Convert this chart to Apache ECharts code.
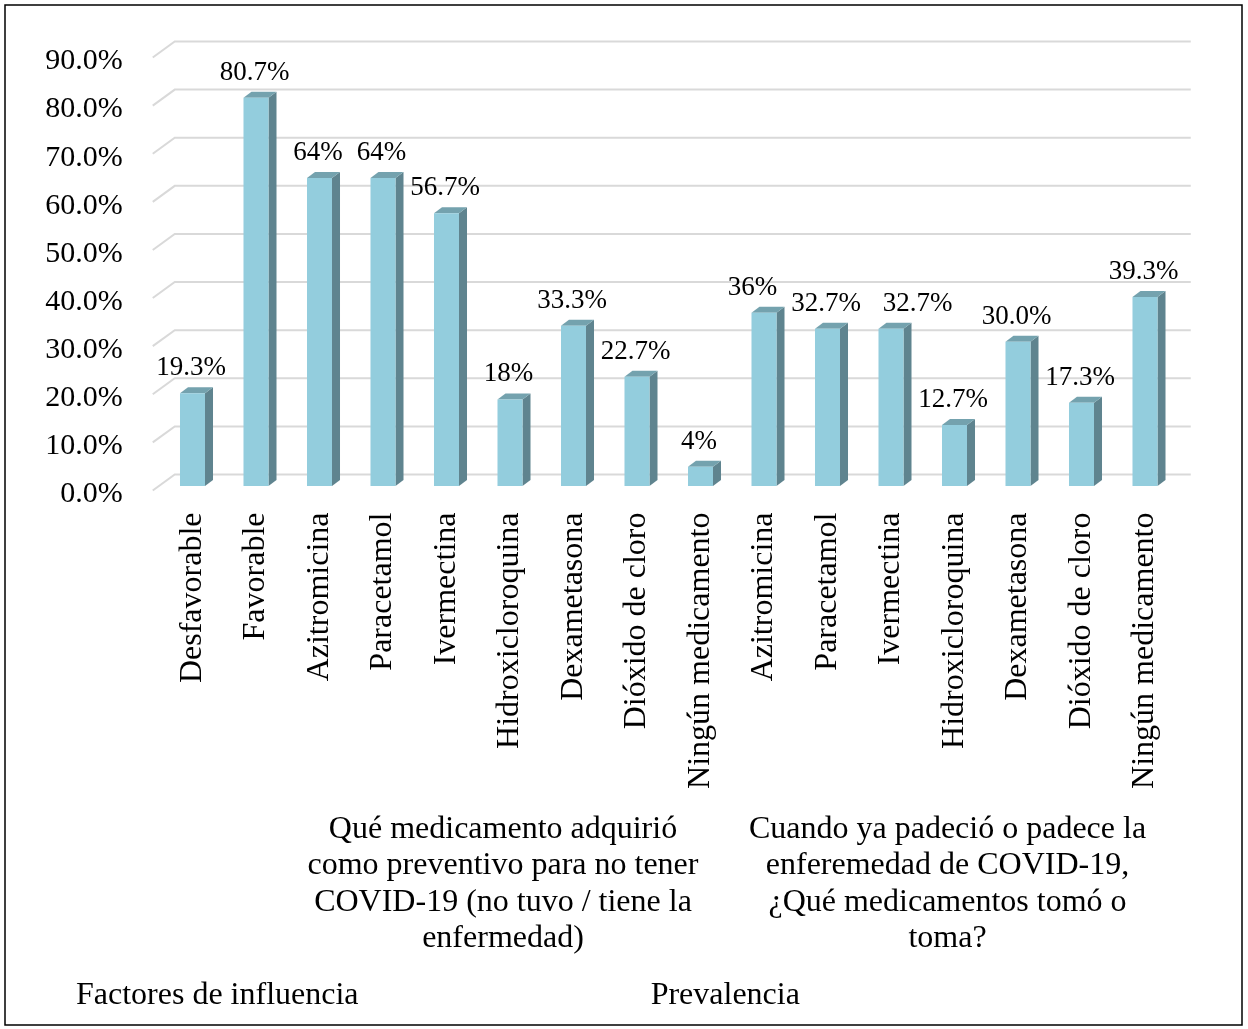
<!DOCTYPE html>
<html>
<head>
<meta charset="utf-8">
<script src="https://cdn.jsdelivr.net/npm/echarts@6/dist/echarts.min.js"></script>
<style>
  html, body { margin: 0; padding: 0; background: #fff; }
  #chart { width: 1248px; height: 1029px; }
</style>
</head>
<body>
<div id="chart"></div>
<script>
// Medicamentos: prevención y tratamiento de COVID-19
const categories = [
  'Desfavorable', 'Favorable',
  'Azitromicina', 'Paracetamol', 'Ivermectina', 'Hidroxicloroquina',
  'Dexametasona', 'Dióxido de cloro', 'Ningún medicamento',
  'Azitromicina', 'Paracetamol', 'Ivermectina', 'Hidroxicloroquina',
  'Dexametasona', 'Dióxido de cloro', 'Ningún medicamento'
];
const values = [19.3, 80.7, 64, 64, 56.7, 18, 33.3, 22.7, 4, 36, 32.7, 32.7, 12.7, 30.0, 17.3, 39.3];
const valueLabels = ['19.3%', '80.7%', '64%', '64%', '56.7%', '18%', '33.3%', '22.7%', '4%',
                     '36%', '32.7%', '32.7%', '12.7%', '30.0%', '17.3%', '39.3%'];
const yMin = 0, yMax = 90, yStep = 10;
const yTicks = [0, 10, 20, 30, 40, 50, 60, 70, 80, 90];

// Category groups: [first index, last index, text]
const subGroups = [
  [2, 8, 'Qué medicamento adquirió\ncomo preventivo para no tener\nCOVID-19 (no tuvo / tiene la\nenfermedad)'],
  [9, 15, 'Cuando ya padeció o padece la\nenferemedad de COVID-19,\n¿Qué medicamentos tomó o\ntoma?']
];
const topGroups = [
  [0, 1, 'Factores de influencia'],
  [2, 15, 'Prevalencia']
];

const FONT = '"Liberation Serif", "Times New Roman", serif';
const FRONT = '#93cddd';
const SIDE = '#5f848f';
const TOP = '#74a2ae';
const GRID_COLOR = '#d9d9d9';

// horizontal nudges (px) that keep crowded value labels apart
const LABEL_NUDGE = { 9: -10, 11: 28 };

const chart = echarts.init(document.getElementById('chart'));

const GRID = { left: 160.75, right: 71.25, top: 57.5, bottom: 538.5 };

chart.setOption({
  animation: false,
  backgroundColor: '#ffffff',
  grid: GRID,
  xAxis: {
    type: 'category',
    data: categories,
    axisLine: { show: false },
    axisTick: { show: false },
    axisLabel: {
      rotate: 90,
      margin: 22,
      interval: 0,
      fontFamily: FONT,
      fontSize: 32,
      color: '#000'
    }
  },
  yAxis: {
    type: 'value',
    min: yMin,
    max: yMax,
    interval: yStep,
    axisLine: { show: false },
    axisTick: { show: false },
    splitLine: { show: false },
    // tick labels are drawn with the 3D gridlines so they sit at the wall's front edge
    axisLabel: { show: false }
  },
  series: [
    {
      // 3D-style gridlines (back wall plus side-wall diagonal) with their tick labels
      type: 'custom',
      silent: true,
      z: 1,
      data: yTicks.map(t => [0, t]),
      encode: { x: 0, y: 1 },
      renderItem(params, api) {
        const cs = params.coordSys;
        const v = api.value(1);
        const y = api.coord([0, v])[1];
        const L = cs.x, R = cs.x + cs.width;
        return {
          type: 'group',
          children: [
            { type: 'polyline',
              shape: { points: [[L - 8, y], [L + 14, y - 16], [R + 14, y - 16]] },
              style: { stroke: GRID_COLOR, lineWidth: 2, fill: null } },
            { type: 'text', x: L - 38, y: y + 4,
              style: { text: v.toFixed(1) + '%', fontFamily: FONT, fontSize: 30, fill: '#000',
                       align: 'right', verticalAlign: 'middle' } }
          ]
        };
      }
    },
    {
      type: 'custom',
      z: 2,
      data: values.map((v, i) => [i, v]),
      encode: { x: 0, y: 1 },
      renderItem(params, api) {
        const i = api.value(0);
        const v = api.value(1);
        const base = api.coord([i, 0]);
        const top = api.coord([i, v]);
        const bw = api.size([1, 0])[0] * 0.394;
        const x0 = base[0] - bw / 2, x1 = base[0] + bw / 2;
        const yb = base[1] - 4.5, yt = top[1] - 4.5;
        const dx = 8, dy = -6;
        return {
          type: 'group',
          children: [
            { type: 'polygon', shape: { points: [[x1, yb], [x1 + dx, yb + dy], [x1 + dx, yt + dy], [x1, yt]] },
              style: { fill: SIDE } },
            { type: 'polygon', shape: { points: [[x0, yt], [x1, yt], [x1 + dx, yt + dy], [x0 + dx, yt + dy]] },
              style: { fill: TOP } },
            { type: 'rect', shape: { x: x0, y: yt, width: bw, height: yb - yt },
              style: { fill: FRONT } },
            { type: 'text', x: base[0] - 1.5 + (LABEL_NUDGE[i] || 0), y: yt - 25,
              style: { text: valueLabels[i], fontFamily: FONT, fontSize: 27, fill: '#000',
                       align: 'center', verticalAlign: 'middle' } }
          ]
        };
      }
    }
  ]
});

// Multi-level category labels beneath the axis
function groupCenter(a, b) {
  const pa = chart.convertToPixel({ xAxisIndex: 0 }, a);
  const pb = chart.convertToPixel({ xAxisIndex: 0 }, b);
  return (pa + pb) / 2 - 7;
}
const graphics = [
  { type: 'rect', shape: { x: 5, y: 5, width: 1237, height: 1020 },
    style: { fill: null, stroke: '#000', lineWidth: 1.5 }, silent: true }
];
subGroups.forEach(([a, b, text]) => {
  graphics.push({
    type: 'text', x: groupCenter(a, b), y: 811,
    style: { text, fontFamily: FONT, fontSize: 32, lineHeight: 36.5, fill: '#000',
             align: 'center', verticalAlign: 'top' }
  });
});
topGroups.forEach(([a, b, text]) => {
  graphics.push({
    type: 'text', x: groupCenter(a, b), y: 996,
    style: { text, fontFamily: FONT, fontSize: 32, fill: '#000',
             align: 'center', verticalAlign: 'middle' }
  });
});
chart.setOption({ graphic: graphics });
</script>
</body>
</html>
